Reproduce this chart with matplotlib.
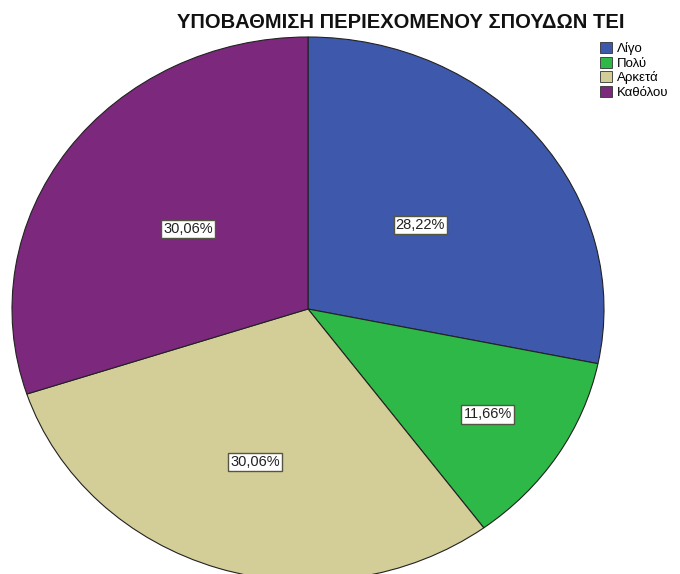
import numpy as np
import matplotlib
matplotlib.use("Agg")
import matplotlib.pyplot as plt
from matplotlib.patches import Patch

plt.rcParams['font.family'] = ['Liberation Sans', 'DejaVu Sans']

categories = ['Λίγο', 'Πολύ', 'Αρκετά', 'Καθόλου']
percents = [28.22, 11.66, 30.06, 30.06]
colors = ['#3e58ac', '#2eb848', '#d3ce97', '#7c287d']
# radial position of each percent box (fraction of radius)
label_r = [0.49, 0.72, 0.59, 0.50]

fig = plt.figure(figsize=(6.8, 5.74), dpi=100)
# pie area: x 12..604 px, y 37..581 px (pie is slightly squashed, bottom cut off)
ax = fig.add_axes([12 / 680, 1 - 581 / 574, 592 / 680, 544 / 574])

wedges, _ = ax.pie(percents, colors=colors, startangle=90, counterclock=False,
                   radius=1.0,
                   wedgeprops=dict(edgecolor='#222222', linewidth=0.8))
ax.set_aspect('auto')
ax.set_xlim(-1, 1)
ax.set_ylim(-1, 1)
ax.axis('off')

for w, p, r in zip(wedges, percents, label_r):
    mid = np.deg2rad((w.theta1 + w.theta2) / 2)
    ax.text(r * np.cos(mid), r * np.sin(mid), f"{p:.2f}%".replace('.', ','),
            ha='center', va='center', fontsize=10.5, color='#222222',
            bbox=dict(boxstyle='square,pad=0.15', facecolor='white',
                      edgecolor='#555544', linewidth=1.0))

fig.text(401 / 680, 1 - 22 / 574, 'ΥΠΟΒΑΘΜΙΣΗ ΠΕΡΙΕΧΟΜΕΝΟΥ ΣΠΟΥΔΩΝ ΤΕΙ',
         ha='center', va='center', fontsize=14.5, fontweight='bold',
         color='#111111')

handles = [Patch(facecolor=c, edgecolor='#333333', linewidth=0.6) for c in colors]
fig.legend(handles, categories, loc='upper left',
           bbox_to_anchor=(600 / 680, 1 - 42 / 574), frameon=False,
           fontsize=9.5, borderpad=0, borderaxespad=0, labelspacing=0.12,
           handlelength=0.9, handleheight=0.9, handletextpad=0.4)

fig.savefig('out.png', dpi=100)
